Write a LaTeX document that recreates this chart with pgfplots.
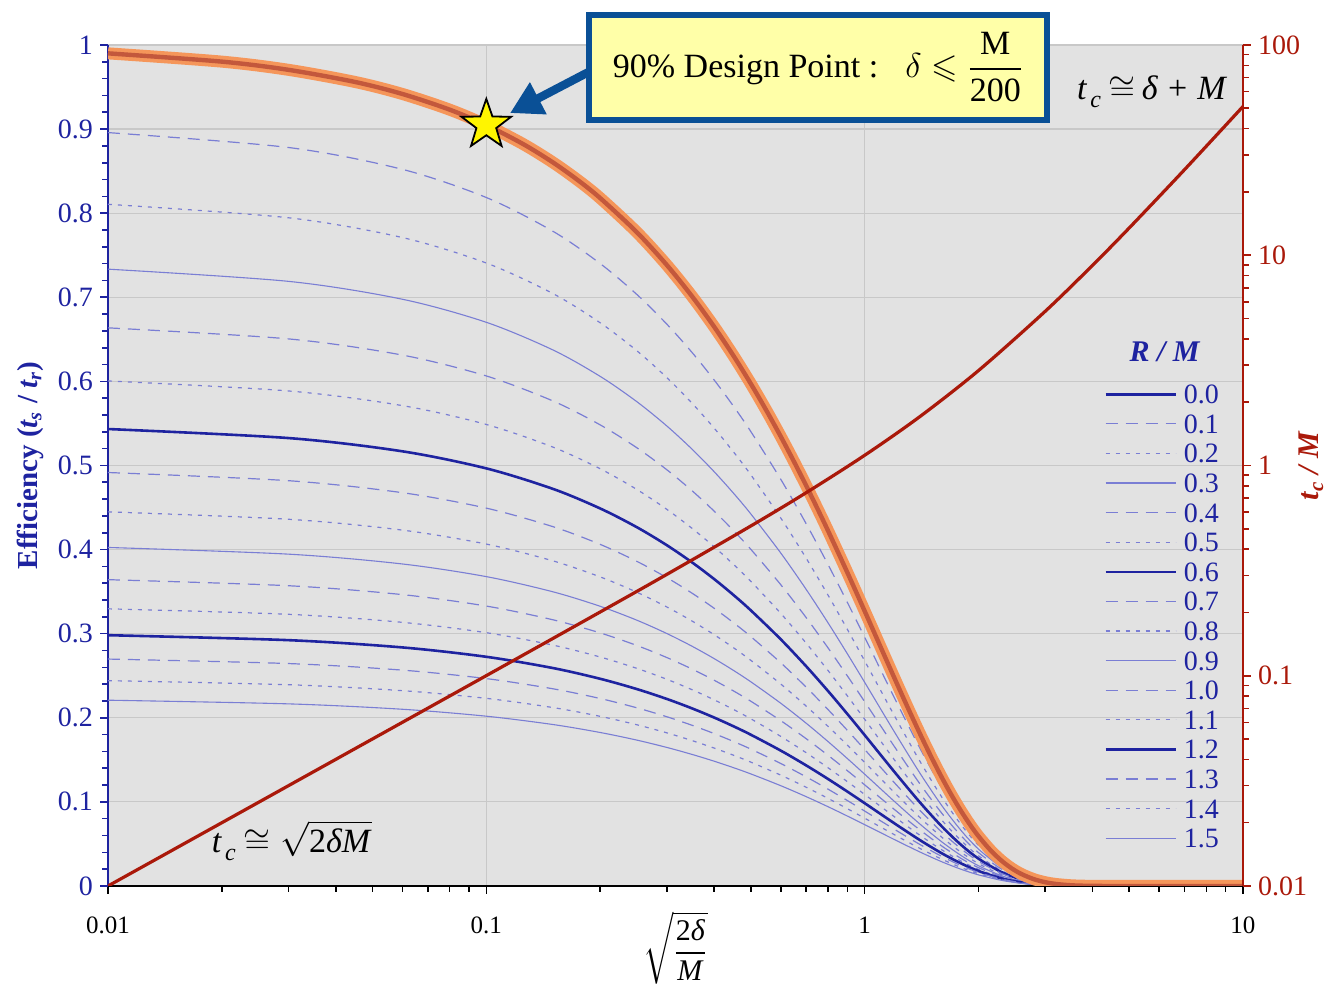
\documentclass[border=0pt]{standalone}
\usepackage{fontspec}
\setmainfont{Liberation Serif}
\usepackage{amsmath,amssymb}
\usepackage{pgfplots}
\usepackage{pgfplotstable}
\pgfplotsset{compat=1.18}
\usetikzlibrary{arrows.meta}

\definecolor{effblue}{RGB}{30,35,160}
\definecolor{thinblue}{RGB}{122,126,212}
\definecolor{tcred}{RGB}{170,25,10}
\definecolor{bandorange}{RGB}{245,150,90}
\definecolor{bandcore}{RGB}{195,88,60}
\definecolor{plotbg}{RGB}{226,226,226}
\definecolor{gridgray}{RGB}{200,200,200}
\definecolor{boxblue}{RGB}{10,80,150}
\definecolor{boxfill}{RGB}{255,255,168}
\definecolor{staryellow}{RGB}{255,245,0}

% filled five-pointed star
\pgfdeclareplotmark{fivestar}{%
  \pgfpathmoveto{\pgfpointpolar{90}{\pgfplotmarksize}}%
  \pgfpathlineto{\pgfpointpolar{126}{0.4\pgfplotmarksize}}%
  \pgfpathlineto{\pgfpointpolar{162}{\pgfplotmarksize}}%
  \pgfpathlineto{\pgfpointpolar{198}{0.4\pgfplotmarksize}}%
  \pgfpathlineto{\pgfpointpolar{234}{\pgfplotmarksize}}%
  \pgfpathlineto{\pgfpointpolar{270}{0.4\pgfplotmarksize}}%
  \pgfpathlineto{\pgfpointpolar{306}{\pgfplotmarksize}}%
  \pgfpathlineto{\pgfpointpolar{342}{0.4\pgfplotmarksize}}%
  \pgfpathlineto{\pgfpointpolar{18}{\pgfplotmarksize}}%
  \pgfpathlineto{\pgfpointpolar{54}{0.4\pgfplotmarksize}}%
  \pgfpathclose
  \pgfusepathqfillstroke}

\pgfplotsset{
 rthick/.style={effblue,line width=1.3pt},
 rsolid/.style={thinblue,line width=0.55pt},
 rdash/.style={thinblue,line width=0.6pt,dash pattern=on 6pt off 4pt},
 rdot/.style={thinblue,line width=0.6pt,dash pattern=on 2pt off 3pt},
}
\newcommand{\tc}{\textit{t}\hspace{1.5pt}\raisebox{-4pt}{\fontsize{12}{14}\selectfont\textit{c}}}

% efficiency vs sqrt(2 delta / M), one column per R/M
\pgfplotstableread{
x    r00     r01     r02     r03     r04     r05     r06     r07     r08     r09     r10     r11     r12     r13     r14     r15
0.01 0.99005 0.89583 0.81058 0.73345 0.66365 0.60050 0.54335 0.49164 0.44486 0.40253 0.36422 0.32956 0.29820 0.26982 0.24414 0.22091
0.03 0.97045 0.87810 0.79454 0.71893 0.65051 0.58861 0.53260 0.48191 0.43605 0.39456 0.35701 0.32304 0.29229 0.26448 0.23931 0.21654
0.06 0.94174 0.85212 0.77103 0.69766 0.63127 0.57120 0.51684 0.46765 0.42315 0.38288 0.34645 0.31348 0.28365 0.25666 0.23223 0.21013
0.10 0.90473 0.81863 0.74073 0.67024 0.60646 0.54875 0.49653 0.44928 0.40652 0.36784 0.33283 0.30116 0.27250 0.24657 0.22310 0.20187
0.15 0.86035 0.77848 0.70440 0.63736 0.57671 0.52183 0.47217 0.42724 0.38658 0.34979 0.31651 0.28639 0.25913 0.23447 0.21216 0.19197
0.20 0.81792 0.74008 0.66966 0.60593 0.54827 0.49609 0.44888 0.40617 0.36752 0.33254 0.30090 0.27226 0.24635 0.22291 0.20170 0.18250
0.25 0.77729 0.70332 0.63639 0.57583 0.52103 0.47145 0.42659 0.38599 0.34926 0.31602 0.28595 0.25874 0.23412 0.21184 0.19168 0.17344
0.30 0.73833 0.66807 0.60449 0.54697 0.49492 0.44782 0.40520 0.36664 0.33175 0.30018 0.27162 0.24577 0.22238 0.20122 0.18207 0.16474
0.35 0.70095 0.63425 0.57389 0.51928 0.46986 0.42515 0.38469 0.34808 0.31496 0.28499 0.25787 0.23333 0.21112 0.19103 0.17285 0.15640
0.40 0.66503 0.60174 0.54448 0.49267 0.44578 0.40336 0.36498 0.33024 0.29882 0.27038 0.24465 0.22137 0.20030 0.18124 0.16400 0.14839
0.45 0.63050 0.57050 0.51621 0.46709 0.42264 0.38242 0.34603 0.31310 0.28330 0.25634 0.23195 0.20988 0.18990 0.17183 0.15548 0.14068
0.50 0.59727 0.54043 0.48900 0.44247 0.40036 0.36226 0.32779 0.29660 0.26837 0.24283 0.21972 0.19881 0.17989 0.16278 0.14729 0.13327
0.60 0.53450 0.48364 0.43761 0.39597 0.35829 0.32419 0.29334 0.26543 0.24017 0.21731 0.19663 0.17792 0.16099 0.14567 0.13181 0.11926
0.70 0.47634 0.43101 0.38999 0.35288 0.31930 0.28892 0.26142 0.23654 0.21403 0.19367 0.17524 0.15856 0.14347 0.12982 0.11746 0.10629
0.80 0.42247 0.38227 0.34589 0.31297 0.28319 0.25624 0.23186 0.20979 0.18983 0.17176 0.15542 0.14063 0.12725 0.11514 0.10418 0.09427
0.90 0.37272 0.33725 0.30516 0.27612 0.24984 0.22607 0.20455 0.18509 0.16747 0.15154 0.13712 0.12407 0.11226 0.10158 0.09191 0.08316
1.00 0.32692 0.29581 0.26766 0.24219 0.21914 0.19829 0.17942 0.16234 0.14690 0.13292 0.12027 0.10882 0.09847 0.08910 0.08062 0.07295
1.20 0.24674 0.22326 0.20201 0.18279 0.16540 0.14966 0.13541 0.12253 0.11087 0.10032 0.09077 0.08213 0.07432 0.06725 0.06085 0.05506
1.40 0.18106 0.16383 0.14824 0.13413 0.12137 0.10982 0.09937 0.08991 0.08136 0.07361 0.06661 0.06027 0.05453 0.04934 0.04465 0.04040
1.60 0.12886 0.11660 0.10550 0.09546 0.08638 0.07816 0.07072 0.06399 0.05790 0.05239 0.04741 0.04289 0.03881 0.03512 0.03178 0.02875
1.80 0.08878 0.08033 0.07269 0.06577 0.05951 0.05385 0.04872 0.04409 0.03989 0.03610 0.03266 0.02955 0.02674 0.02420 0.02189 0.01981
2.00 0.05911 0.05349 0.04840 0.04379 0.03962 0.03585 0.03244 0.02935 0.02656 0.02403 0.02175 0.01968 0.01780 0.01611 0.01458 0.01319
2.30 0.03004 0.02718 0.02459 0.02225 0.02014 0.01822 0.01649 0.01492 0.01350 0.01221 0.01105 0.01000 0.00905 0.00819 0.00741 0.00670
2.60 0.01406 0.01272 0.01151 0.01042 0.00942 0.00853 0.00772 0.00698 0.00632 0.00572 0.00517 0.00468 0.00423 0.00383 0.00347 0.00314
3.00 0.00448 0.00405 0.00367 0.00332 0.00300 0.00272 0.00246 0.00222 0.00201 0.00182 0.00165 0.00149 0.00135 0.00122 0.00110 0.00100
3.50 0.00086 0.00078 0.00070 0.00064 0.00058 0.00052 0.00047 0.00043 0.00039 0.00035 0.00032 0.00029 0.00026 0.00023 0.00021 0.00019
}\eff

% the highlighted R/M = 0 curve, sampled more finely
\pgfplotstableread{
x     e
0.01  0.99005
0.02  0.98020
0.03  0.97045
0.045 0.95600
0.06  0.94174
0.08  0.92310
0.10  0.90473
0.125 0.88228
0.15  0.86035
0.175 0.83890
0.20  0.81792
0.25  0.77729
0.30  0.73833
0.35  0.70095
0.40  0.66503
0.45  0.63050
0.50  0.59727
0.55  0.56529
0.60  0.53450
0.65  0.50486
0.70  0.47634
0.75  0.44888
0.80  0.42247
0.90  0.37272
1.00  0.32692
1.10  0.28496
1.20  0.24674
1.30  0.21214
1.40  0.18106
1.50  0.15336
1.60  0.12886
1.70  0.10741
1.80  0.08878
1.90  0.07275
2.00  0.05911
2.15  0.04257
2.30  0.03004
2.45  0.02077
2.60  0.01406
2.80  0.00809
3.00  0.00448
3.20  0.00239
3.50  0.00086
3.80  0.00029
4.20  0.00004
5.00  0
10.0  0
}\band

\begin{document}
\begin{tikzpicture}
\begin{axis}[name=main,
 scale only axis,width=567.5pt,height=420.5pt,
 xmode=log,xmin=0.01,xmax=10,ymin=0,ymax=1,
 axis x line*=bottom,axis y line*=left,
 x axis line style={black,line width=0.9pt},
 y axis line style={effblue,line width=1.2pt},
 xtick={0.01,0.1,1,10},xticklabels={0.01,0.1,1,10},
 minor xtick={0.02,0.03,0.04,0.05,0.06,0.07,0.08,0.09,0.2,0.3,0.4,0.5,0.6,0.7,0.8,0.9,2,3,4,5,6,7,8,9},
 ytick={0,0.1,0.2,0.3,0.4,0.5,0.6,0.7,0.8,0.9,1},
 yticklabels={0,0.1,0.2,0.3,0.4,0.5,0.6,0.7,0.8,0.9,1},
 minor y tick num=4,
 tick align=outside,major tick length=4pt,minor tick length=3pt,
 x tick style={black,line width=0.8pt},
 y tick style={effblue,line width=0.8pt},
 grid=major,major grid style={gridgray,line width=0.6pt},
 axis background/.style={fill=plotbg},
 xticklabel style={black,font=\fontsize{12.5}{14}\selectfont,yshift=-8pt},
 yticklabel style={effblue,font=\fontsize{14}{16}\selectfont},
 xlabel={$\sqrt{\dfrac{\text{2\textit{δ}}}{\text{\textit{M}}}}$},
 xlabel style={at={(axis description cs:0.5,0)},anchor=center,yshift=-31pt,font=\fontsize{15}{17}\selectfont},
 ylabel={\textbf{Efficiency (\textit{t\textsubscript{s}} / \textit{t\textsubscript{r}})}},
 ylabel style={at={(axis description cs:-0.0687,0.5)},anchor=center,effblue,font=\fontsize{14.5}{17}\selectfont},
 legend cell align=left,
 legend image code/.code={\draw[#1] (0pt,0pt) -- (35pt,0pt);},
 legend style={at={(rel axis cs:0.8722,0.6035)},anchor=north west,draw=none,fill=none,
   text=effblue,font=\fontsize{14}{16}\selectfont,row sep=3.4pt,
   nodes={inner xsep=3.5pt,inner ysep=1pt,text height=9.4pt,text depth=0pt}},
]
\addlegendimage{rthick}\addlegendentry{0.0}
\addplot[rdash,smooth] table[x=x,y=r01] {\eff};\addlegendentry{0.1}
\addplot[rdot,smooth] table[x=x,y=r02] {\eff};\addlegendentry{0.2}
\addplot[rsolid,smooth] table[x=x,y=r03] {\eff};\addlegendentry{0.3}
\addplot[rdash,smooth] table[x=x,y=r04] {\eff};\addlegendentry{0.4}
\addplot[rdot,smooth] table[x=x,y=r05] {\eff};\addlegendentry{0.5}
\addplot[rthick,smooth] table[x=x,y=r06] {\eff};\addlegendentry{0.6}
\addplot[rdash,smooth] table[x=x,y=r07] {\eff};\addlegendentry{0.7}
\addplot[rdot,smooth] table[x=x,y=r08] {\eff};\addlegendentry{0.8}
\addplot[rsolid,smooth] table[x=x,y=r09] {\eff};\addlegendentry{0.9}
\addplot[rdash,smooth] table[x=x,y=r10] {\eff};\addlegendentry{1.0}
\addplot[rdot,smooth] table[x=x,y=r11] {\eff};\addlegendentry{1.1}
\addplot[rthick,smooth] table[x=x,y=r12] {\eff};\addlegendentry{1.2}
\addplot[rdash,smooth] table[x=x,y=r13] {\eff};\addlegendentry{1.3}
\addplot[rdot,smooth] table[x=x,y=r14] {\eff};\addlegendentry{1.4}
\addplot[rsolid,smooth] table[x=x,y=r15] {\eff};\addlegendentry{1.5}
% highlighted R/M = 0 curve
\addplot[bandorange,line width=6pt,smooth,forget plot] table[x=x,y=e] {\band};
\addplot[bandcore,line width=2.2pt,smooth,forget plot] table[x=x,y=e] {\band};
\addplot[only marks,mark=fivestar,mark size=13pt,
  mark options={fill=staryellow,draw=black,line width=0.9pt},forget plot] coordinates {(0.1,0.905)};
\node[effblue,font=\fontsize{15}{17}\selectfont] at (rel axis cs:0.9313,0.635) {\textbf{\textit{R / M}}};
\node[font=\fontsize{17}{20}\selectfont] at (rel axis cs:0.92,0.944)
  {\tc\hspace{4pt}$\cong$\hspace{3pt}\textit{δ}\hspace{5pt}+\hspace{5pt}\textit{M}};
\node[font=\fontsize{17}{20}\selectfont] at (rel axis cs:0.162,0.054)
  {\tc\hspace{4pt}$\cong\sqrt{\text{2\textit{δM}}}$};
\coordinate (boxc) at (rel axis cs:0.6256,0.9738);
\coordinate (arrtail) at (axis cs:0.1903,0.970);
\coordinate (arrhead) at (axis cs:0.1155,0.919);
\end{axis}

\begin{axis}[
 scale only axis,width=567.5pt,height=420.5pt,
 xmode=log,xmin=0.01,xmax=10,ymode=log,ymin=0.01,ymax=100,
 axis x line=none,axis y line*=right,
 y axis line style={tcred,line width=1.2pt},
 ytick={0.01,0.1,1,10,100},yticklabels={0.01,0.1,1,10,100},
 minor ytick={0.02,0.03,0.04,0.05,0.06,0.07,0.08,0.09,0.2,0.3,0.4,0.5,0.6,0.7,0.8,0.9,2,3,4,5,6,7,8,9,20,30,40,50,60,70,80,90},
 tick align=outside,major tick length=4pt,minor tick length=3pt,
 y tick style={tcred,line width=0.8pt},
 yticklabel style={tcred,font=\fontsize{14}{16}\selectfont},
 ylabel={\textbf{\textit{t\textsubscript{c} / M}}},
 ylabel style={at={(axis description cs:1.06,0.5)},anchor=center,tcred,font=\fontsize{15}{17}\selectfont},
]
\addplot[tcred,line width=1.6pt,smooth] coordinates {
 (0.01,0.01) (0.03,0.03) (0.1,0.10012) (0.2,0.201) (0.3,0.30336) (0.5,0.51539)
 (0.7,0.74164) (1,1.11803) (1.4,1.70892) (2,2.82843) (3,5.40833) (4,8.94427)
 (5,13.4629) (7,25.4803) (10,50.990)};
\end{axis}

\draw[boxblue,line width=4.2pt,-{Triangle[length=16pt,width=17pt]}] (arrtail) -- (arrhead);
\node[draw=boxblue,line width=3pt,fill=boxfill,minimum width=229pt,minimum height=52.5pt,
  inner sep=0pt,font=\fontsize{17}{20}\selectfont] at (boxc)
  {90\% Design Point :\hspace{0.8em}$\delta\leqslant\dfrac{\text{M}}{\text{200}}$};

\pgfresetboundingbox
\path ([shift={(-54pt,-50.5pt)}]main.south west) rectangle ([shift={(42pt,22.5pt)}]main.north east);
\end{tikzpicture}
\end{document}
